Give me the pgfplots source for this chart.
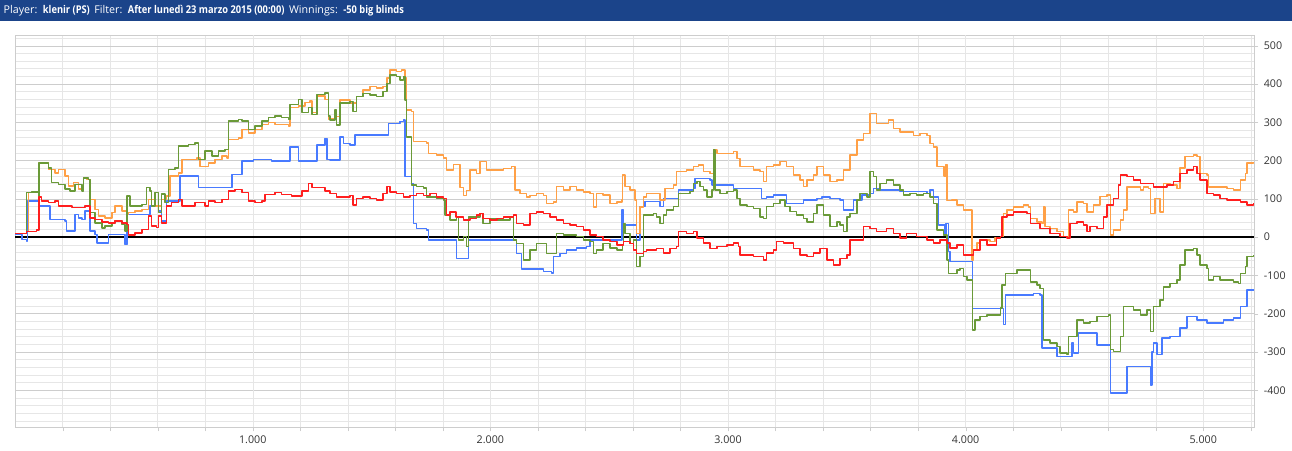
\documentclass[border=0pt]{standalone}
\usepackage{fontspec}
\setmainfont{Open Sans}[BoldFeatures={FakeStretch=0.87}]
\usepackage{pgfplots}
\pgfplotsset{compat=1.18}
\definecolor{barblue}{RGB}{27,68,138}
\definecolor{sred}{RGB}{255,30,30}
\definecolor{sorange}{RGB}{255,160,70}
\definecolor{sgreen}{RGB}{106,154,56}
\definecolor{sblue}{RGB}{72,122,255}
\definecolor{gridmaj}{RGB}{205,205,205}
\definecolor{gridmin}{RGB}{230,230,230}
\definecolor{labcol}{RGB}{50,50,50}
\begin{document}
\begin{tikzpicture}
\useasboundingbox (0pt,0pt) rectangle (1292pt,450pt);
\fill[barblue] (0pt,429pt) rectangle (1292pt,450pt);
\node[anchor=west,text=white,inner sep=0pt,font=\fontsize{10.7}{12}\selectfont] at (3.5pt,439.5pt) {Player:\, \textbf{klenir (PS)}\, Filter:\, \textbf{After lunedì 23 marzo 2015 (00:00)}\, Winnings:\, \textbf{-50 big blinds}};
\begin{axis}[
 at={(15.1pt,22.7pt)}, anchor=south west,
 scale only axis, width=1239.2pt, height=392.3pt,
 xmin=0, xmax=5215, ymin=-497, ymax=528,
 axis line style={draw=gridmaj},
 xtick={200,400,...,5200},
 xticklabels={,,,,1.000,,,,,2.000,,,,,3.000,,,,,4.000,,,,,5.000,},
 extra x ticks={1000,2000,3000,4000,5000},
 extra x tick labels={},
 extra x tick style={grid style={gridmaj}},
 ytick={-400,-300,...,500},
 yticklabels={-400,-300,-200,-100,0,100,200,300,400,500},
 minor ytick={-480,-460,...,520},
 yticklabel pos=right,
 xmajorgrids, ymajorgrids, yminorgrids,
 x grid style={gridmin},
 y grid style={gridmaj},
 minor y grid style={gridmin},
 tick align=outside, major tick length=4pt, minor tick length=0pt,
 tick style={gridmaj},
 xtick pos=bottom, ytick pos=right,
 /pgf/number format/assume math mode=true,
 ticklabel style={font=\fontsize{10.7}{12}\selectfont, text=labcol},
 yticklabel style={anchor=west, xshift=2pt},
 xticklabel style={yshift=-1pt},
 every axis plot/.append style={const plot, line width=1.5pt, line join=round},
]
\addplot[black, line width=2pt] coordinates {(0,0) (5215,0)};
% blue
\addplot[sblue] coordinates {
(0,7) (28,-6) (49,-10) (53,94) (84,94) (98,81) (140,81) (147,46) (182,46) (210,42) (217,16) (246,16) (253,59) (267,50) (281,46) (295,68) (309,68) (316,16) (337,7) (344,-15) (386,-15) (393,7) (449,7) (463,-19) (470,59) (561,59) (568,81) (603,68) (617,42) (638,94) (687,94) (694,159) (765,159) (772,129) (898,129) (912,164) (954,199) (1003,203) (1066,203) (1080,199) (1150,199) (1157,236) (1186,236) (1193,199) (1263,199) (1270,240) (1305,257) (1312,203)
(1325,201) (1360,201) (1367,262) (1381,245) (1409,240) (1430,267) (1564,267) (1571,297) (1620,302) (1634,306) (1641,158) (1655,158) (1669,140) (1676,36) (1690,23) (1732,18) (1739,-8) (1858,-8) (1858,-56) (1900,-56) (1907,-8) (2104,-8) (2111,-43) (2132,-84) (2223,-90) (2258,-94) (2265,-51) (2293,-43) (2321,-34) (2363,-29) (2405,-25) (2419,-8) (2553,-8) (2553,71) (2560,32) (2609,32) (2616,-8) (2630,80) (2651,93)
(2686,93) (2714,80) (2728,101) (2770,101) (2791,123) (2854,127) (2861,153) (2925,149) (2932,136) (3023,127) (3135,127) (3142,101) (3163,105) (3191,110) (3247,110) (3247,88) (3303,88) (3317,97) (3374,101) (3395,105) (3430,101) (3472,97) (3486,71) (3514,71) (3528,97) (3556,97) (3563,110) (3598,114) (3612,127) (3640,123) (3724,119) (3823,119) (3837,114) (3851,123) (3865,105) (3879,105) (3886,32) (3907,32) (3914,6) (3918,36) (3928,-38) (3935,-64) (3963,-64)
(3977,-64) (4026,-64) (4030,-186) (4089,-186) (4153,-186) (4160,-229) (4167,-151) (4272,-151) (4286,-147) (4314,-151) (4321,-290) (4377,-290) (4384,-312) (4440,-312) (4447,-277) (4454,-303) (4468,-303) (4475,-251) (4538,-251) (4552,-282) (4602,-282) (4609,-408) (4672,-408) (4679,-338) (4763,-338) (4777,-386) (4784,-300) (4791,-277) (4805,-307) (4819,-307) (4826,-264) (4861,-260) (4889,-260) (4903,-238) (4931,-208) (4973,-216) (5015,-225) (5086,-216) (5128,-212) (5149,-212) (5156,-182) (5177,-182) (5184,-138) (5212,-138)
};
% orange
\addplot[sorange] coordinates {
(0,10) (49,15) (56,116) (84,116) (98,110) (101,194) (140,177) (168,168) (182,177) (210,159) (224,133) (246,142) (267,125) (288,155) (302,151) (316,98) (337,72) (351,55) (379,50) (407,64) (421,81) (449,68) (470,59) (477,64) (505,68) (533,72) (561,98) (589,81) (617,98) (638,107) (652,159) (687,168) (702,203) (730,203) (765,207) (779,185) (814,194) (842,203) (870,212) (891,207) (898,255) (940,259) (954,281) (982,272) (1010,281) (1038,294) (1066,299) (1094,294) (1122,294) (1150,290) (1157,338) (1193,342) (1221,351) (1242,355) (1249,325) (1270,368) (1305,360) (1319,307)
(1325,310) (1353,315) (1367,358) (1395,358) (1409,350) (1437,367) (1465,384) (1493,393) (1521,389) (1549,393) (1564,415) (1578,437) (1606,432) (1627,437) (1641,415) (1648,332) (1669,328) (1676,250) (1704,250) (1732,246) (1739,219) (1774,215) (1802,206) (1816,175) (1844,189) (1872,130) (1886,109) (1900,122) (1914,175) (1942,166) (1956,197) (1984,175) (2027,175) (2055,179) (2090,184) (2104,123) (2125,114) (2153,105) (2167,109) (2195,114) (2223,109) (2237,88) (2265,92) (2279,132) (2307,123) (2335,132) (2363,123) (2391,118) (2419,114) (2433,79) (2447,114) (2475,110) (2504,88) (2532,92) (2553,97) (2557,162) (2567,132) (2588,123) (2609,97) (2616,10) (2630,79) (2644,105)
(2658,114) (2686,114) (2714,97) (2735,127) (2770,136) (2784,171) (2826,175) (2854,184) (2876,188) (2897,171) (2925,166) (2939,227) (2953,218) (2995,218) (3023,223) (3037,205) (3051,184) (3107,175) (3135,171) (3149,145) (3163,184) (3191,188) (3219,197) (3247,184) (3275,162) (3303,149) (3317,132) (3332,149) (3360,162) (3374,184) (3402,162) (3430,145) (3458,149) (3486,175) (3514,214) (3542,254) (3570,271) (3598,323) (3626,297) (3654,297) (3675,306) (3696,284) (3724,275) (3752,275) (3780,266) (3808,271) (3837,266) (3851,245) (3865,236) (3879,184) (3900,184) (3910,160) (3918,190) (3922,95) (3942,97)
(3963,84) (3991,71) (4019,71) (4026,-60) (4033,-34) (4047,-16) (4061,-8) (4075,-8) (4103,-12) (4124,-3) (4146,1) (4160,62) (4174,71) (4202,79) (4244,84) (4265,79) (4272,49) (4300,40) (4321,36) (4328,79) (4335,27) (4356,23) (4384,14) (4412,1) (4433,71) (4454,66) (4468,92) (4496,88) (4510,66) (4538,84) (4566,106) (4595,110) (4602,110) (4609,5) (4623,19) (4651,45) (4665,71) (4679,131) (4707,131) (4735,123) (4749,131) (4770,127) (4777,62) (4798,101) (4819,66) (4833,140) (4861,136) (4889,127) (4903,180) (4924,210) (4959,214) (4973,210) (4987,166) (5015,162) (5022,131) (5057,131) (5100,127) (5128,123) (5149,123) (5156,149) (5177,166) (5184,193) (5212,195)
};
% green
\addplot[sgreen] coordinates {
(0,10) (49,11) (49,116) (70,118) (98,107) (101,194) (140,181) (154,142) (182,138) (210,125) (231,120) (253,138) (281,120) (288,155) (309,151) (316,64) (337,37) (365,24) (379,29) (407,37) (421,42) (449,33) (463,16) (470,107) (484,81) (519,81) (533,85) (554,129) (568,120) (575,81) (589,116) (603,64) (617,112) (631,90) (645,177) (673,181) (687,238) (730,242) (758,246) (772,203) (800,225) (828,212) (856,225) (884,229) (898,303) (940,307) (954,303) (982,281) (1010,290) (1038,303) (1066,312) (1094,316) (1122,312) (1150,307) (1157,347) (1193,360) (1207,325) (1235,338) (1249,320) (1270,373) (1305,377) (1319,316)
(1325,306) (1346,332) (1353,293) (1367,350) (1395,350) (1409,354) (1423,328) (1437,367) (1465,375) (1493,371) (1521,367) (1549,380) (1564,401) (1578,423) (1606,419) (1620,410) (1634,419) (1641,358) (1648,262) (1662,262) (1669,136) (1690,132) (1718,128) (1732,105) (1774,101) (1802,97) (1809,58) (1830,45) (1858,53) (1865,-8) (1886,1) (1900,-25) (1907,53) (1942,53) (1956,62) (1970,36) (1998,49) (2027,45) (2055,45) (2083,53) (2097,-8) (2111,-17) (2139,-60) (2167,-34) (2195,-17) (2223,-17) (2237,-43) (2265,-43) (2279,10) (2307,6) (2335,6) (2363,1) (2391,-8) (2419,-12) (2433,-43) (2447,-34) (2475,-17) (2504,-29) (2532,-34) (2557,-20) (2560,36) (2567,10) (2588,-17) (2602,-8) (2616,-77) (2630,-51) (2644,36)
(2644,58) (2686,62) (2700,53) (2714,36) (2728,58) (2742,71) (2770,80) (2791,114) (2840,119) (2854,140) (2869,145) (2883,132) (2897,123) (2911,105) (2932,123) (2939,227) (2946,123) (2967,114) (2995,119) (3023,123) (3037,101) (3051,84) (3079,80) (3107,75) (3135,53) (3149,49) (3163,80) (3191,88) (3219,97) (3240,80) (3261,67) (3289,58) (3317,49) (3332,40) (3360,62) (3374,84) (3402,58) (3430,27) (3458,40) (3472,32) (3486,14) (3500,53) (3514,62) (3542,97) (3556,114) (3584,105) (3598,171) (3612,158) (3626,123) (3640,140) (3668,149) (3696,136) (3724,123) (3738,110) (3766,114) (3794,110) (3823,114) (3837,114) (3851,105) (3865,88) (3879,19) (3907,6) (3921,-60) (3928,-95) (3949,-95)
(3963,-86) (3977,-82) (3991,-103) (4005,-112) (4026,-112) (4030,-243) (4040,-216) (4061,-208) (4089,-203) (4117,-203) (4146,-185) (4153,-125) (4167,-95) (4188,-95) (4216,-86) (4258,-86) (4272,-117) (4300,-125) (4314,-134) (4328,-269) (4356,-277) (4384,-286) (4398,-303) (4426,-307) (4433,-260) (4454,-260) (4468,-216) (4496,-225) (4524,-220) (4552,-208) (4580,-208) (4602,-203) (4609,-294) (4623,-299) (4651,-260) (4665,-182) (4693,-182) (4707,-190) (4735,-203) (4763,-190) (4777,-247) (4791,-182) (4819,-164) (4833,-130) (4861,-121) (4889,-112) (4903,-73) (4924,-34) (4959,-30) (4973,-47) (4987,-73) (5015,-82) (5022,-112) (5043,-103) (5071,-112) (5100,-112) (5128,-117) (5149,-121) (5156,-95) (5177,-77) (5184,-51) (5212,-47)
};
% red
\addplot[sred] coordinates {
(0,10) (49,15) (91,18) (101,105) (112,94) (140,90) (168,94) (182,81) (210,81) (239,77) (281,77) (295,81) (316,50) (337,46) (365,40) (393,37) (421,42) (449,37) (470,33) (477,5) (505,11) (533,20) (561,55) (575,29) (596,25) (603,55) (617,37) (638,81) (659,90) (687,98) (702,81) (730,81) (758,90) (800,81) (814,94) (842,90) (870,98) (898,120) (926,124) (954,116) (982,94) (1010,90) (1038,94) (1052,111) (1094,116) (1122,111) (1164,107) (1207,120) (1235,140) (1249,129) (1277,129) (1305,120)
(1325,114) (1353,105) (1381,105) (1409,109) (1423,84) (1437,101) (1465,105) (1493,101) (1521,97) (1549,114) (1564,132) (1578,118) (1606,114) (1634,105) (1662,109) (1690,114) (1718,109) (1746,114) (1774,105) (1802,101) (1816,58) (1830,66) (1855,53) (1886,45) (1914,49) (1942,58) (1956,62) (1970,49) (1998,45) (2027,49) (2055,53) (2083,53) (2097,58) (2111,36) (2139,32) (2167,62) (2195,66) (2223,62) (2251,53) (2279,45) (2307,36) (2335,32) (2363,27) (2391,19) (2419,5) (2447,1) (2475,-8) (2504,-12) (2532,-21) (2560,-12) (2588,-17) (2602,-34) (2616,-43) (2644,-38)
(2658,-34) (2700,-30) (2728,-42) (2756,-30) (2784,-25) (2791,14) (2826,10) (2854,14) (2869,-3) (2897,-16) (2925,-30) (2953,-25) (2995,-21) (3023,-16) (3044,-25) (3051,-47) (3107,-51) (3149,-60) (3163,-42) (3191,-34) (3205,-12) (3233,-16) (3275,-30) (3303,-47) (3332,-51) (3360,-42) (3388,-30) (3416,-60) (3444,-73) (3472,-56) (3500,-47) (3514,-8) (3542,-8) (3570,27) (3598,23) (3626,14) (3668,23) (3696,10) (3724,-3) (3752,10) (3794,1) (3837,-8) (3865,-16) (3893,-8) (3921,-16)
(3935,-29) (3963,-21) (3991,-47) (4019,-47) (4033,-34) (4061,-8) (4089,-21) (4117,-21) (4131,-3) (4146,1) (4153,53) (4174,58) (4202,66) (4244,66) (4258,62) (4272,36) (4314,23) (4356,10) (4398,1) (4426,-3) (4440,36) (4468,40) (4496,32) (4510,14) (4524,27) (4552,23) (4580,53) (4595,84) (4623,101) (4644,136) (4651,162) (4679,158) (4707,149) (4735,140) (4763,140) (4791,131) (4819,131) (4847,136) (4875,145) (4903,166) (4931,175) (4959,184) (4973,166) (4987,149) (5015,114) (5043,110) (5071,101) (5100,97) (5128,97) (5156,92) (5184,84) (5212,88)
};
\end{axis}
\end{tikzpicture}
\end{document}
